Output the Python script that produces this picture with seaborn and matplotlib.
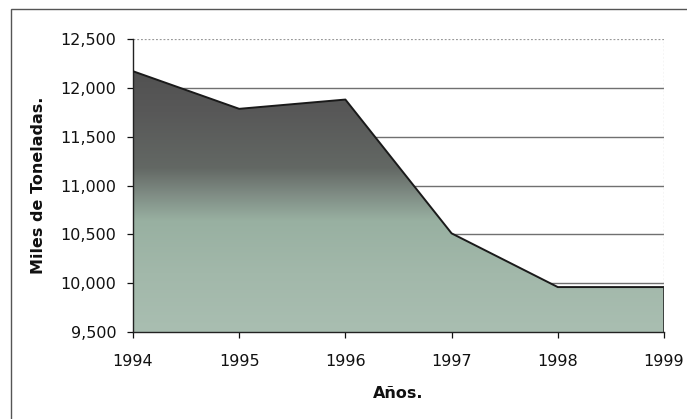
import numpy as np
import pandas as pd
import matplotlib
matplotlib.use("Agg")
import matplotlib.pyplot as plt
from matplotlib.colors import LinearSegmentedColormap
from matplotlib.patches import Rectangle
import seaborn as sns

# Production in thousands of tonnes
years = [1994, 1995, 1996, 1997, 1998, 1999]
tonnes = [12170, 11785, 11880, 10510, 9960, 9960]
y_ticks = [9500, 10000, 10500, 11000, 11500, 12000, 12500]
y_tick_labels = ["9,500", "10,000", "10,500", "11,000", "11,500", "12,000", "12,500"]

df = pd.DataFrame({"year": years, "tonnes": tonnes})

sns.set_theme(style="white")
plt.rcParams["font.family"] = ["DejaVu Sans"]

fig = plt.figure(figsize=(6.87, 4.19), dpi=100)
ax = fig.add_axes([133 / 687, 1 - 332 / 419, (664 - 133) / 687, (332 - 39) / 419])

ax.set_xlim(1994, 1999)
ax.set_ylim(9500, 12500)

# horizontal gridlines
for v in y_ticks[1:-1]:
    ax.axhline(v, color="#707070", lw=1.0, zorder=1)
ax.axhline(12500, color="#9a9a9a", lw=0.9, ls=(0, (1.5, 1.5)), zorder=1)
ax.axvline(1999, color="#b0b0b0", lw=0.9, ls=(0, (1.5, 1.5)), zorder=1)

# area with a dark-to-green vertical gradient
poly = ax.fill_between(df["year"], df["tonnes"], 9500, color="none", lw=0, zorder=2)
cmap = LinearSegmentedColormap.from_list(
    "shade",
    [(0.0, "#a9beb1"), (0.2, "#a2b8aa"), (0.38, "#98b0a1"),
     (0.47, "#7f8c84"), (0.56, "#636864"), (0.75, "#585858"), (1.0, "#4c4c4c")],
)
grad = np.linspace(0, 1, 256).reshape(-1, 1)
img = ax.imshow(grad, cmap=cmap, origin="lower", aspect="auto",
                extent=[1994, 1999, 9500, 12500], zorder=2, interpolation="bicubic")
path = poly.get_paths()[0]
img.set_clip_path(path, transform=ax.transData)

sns.lineplot(data=df, x="year", y="tonnes", ax=ax, color="#1a1a1a", lw=1.4, zorder=3)
ax.plot([1999, 1999], [9500, tonnes[-1]], color="#2a2a2a", lw=1.2, zorder=3)

ax.set_yticks(y_ticks)
ax.set_yticklabels(y_tick_labels)
ax.set_xticks(years)
ax.set_xticklabels([str(y) for y in years])
ax.tick_params(axis="both", labelsize=11.5, colors="#111111", length=4, width=0.9,
               direction="out", left=True, bottom=True)
ax.tick_params(axis="x", pad=12)
ax.tick_params(axis="y", pad=8)

for s in ["top", "right"]:
    ax.spines[s].set_visible(False)
for s in ["left", "bottom"]:
    ax.spines[s].set_color("#222222")
    ax.spines[s].set_linewidth(1.0)

ax.set_xlabel("Años.", fontsize=11.5, fontweight="bold", color="#111111", labelpad=12)
ax.set_ylabel("Miles de Toneladas.", fontsize=11.5, fontweight="bold", color="#111111", labelpad=10)

# outer chart frame
fig.patches.append(Rectangle((11 / 687, -0.2), 1.1, 1.2 - 9 / 419,
                             transform=fig.transFigure, fill=False,
                             edgecolor="#555555", lw=1.0))

fig.savefig("out.png", dpi=100)
